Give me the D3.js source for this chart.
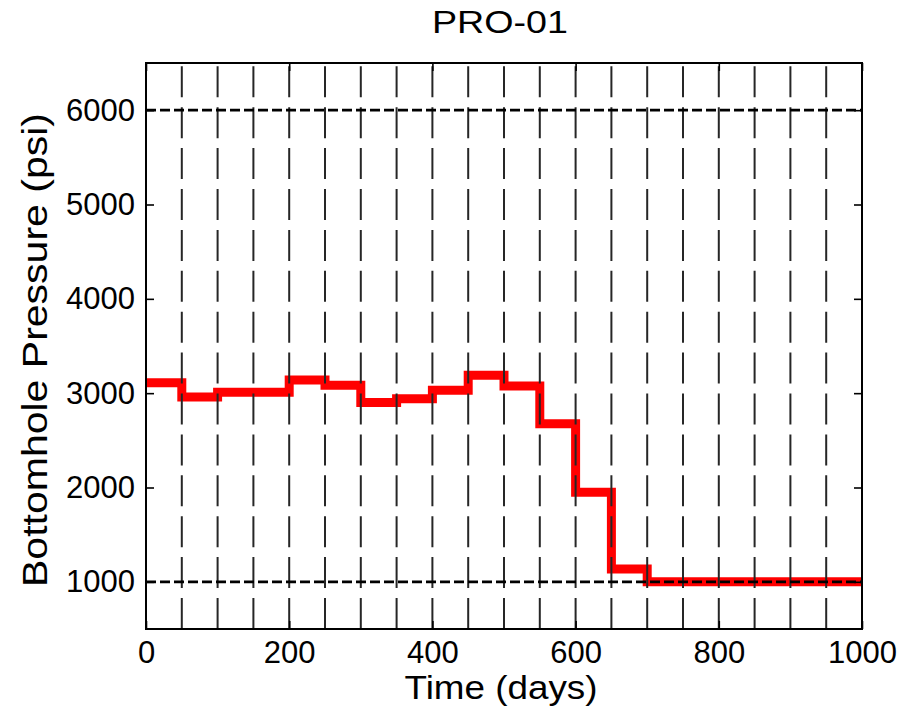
<!DOCTYPE html>
<html>
<head>
<meta charset="utf-8">
<script src="https://cdn.jsdelivr.net/npm/d3@7"></script>
<style>
  body { margin: 0; background: #fff; }
  svg { display: block; font-family: "Liberation Sans", Arial, sans-serif; }
</style>
</head>
<body>
<div id="chart"></div>
<script>
// well control schedule: bottomhole pressure held constant over each control step
var stepStart = [0, 50, 100, 200, 250, 300, 350, 400, 450, 500, 550, 600, 650, 700];
var pressure  = [3110, 2960, 3010, 3140, 3085, 2900, 2940, 3030, 3190, 3075, 2675, 1950, 1135, 1000];
var endTime = 1000;

// control step boundaries (dashed verticals) and pressure limits (dashed horizontals)
var controlTimes = [50, 100, 150, 200, 250, 300, 350, 400, 450, 500, 550, 600, 650, 700, 750, 800, 850, 900, 950];
var limits = [1000, 6000];

var xTicks = [0, 200, 400, 600, 800, 1000];
var yTicks = [1000, 2000, 3000, 4000, 5000, 6000];

var width = 902, height = 714;
var plot = {left: 146, right: 862, top: 63, bottom: 629};

var svg = d3.select("#chart").append("svg")
    .attr("width", width)
    .attr("height", height);

var x = d3.scaleLinear().domain([0, 1000]).range([plot.left, plot.right]);
var y = d3.scaleLinear().domain([500, 6500]).range([plot.bottom, plot.top]);

// step series, last value carried to the end time
var data = stepStart.map(function(t, i) { return {t: t, p: pressure[i]}; });
data.push({t: endTime, p: pressure[pressure.length - 1]});

var line = d3.line()
    .x(function(d) { return x(d.t); })
    .y(function(d) { return y(d.p); })
    .curve(d3.curveStepAfter);

svg.append("path")
    .datum(data)
    .attr("fill", "none")
    .attr("stroke", "#ff0000")
    .attr("stroke-width", 9)
    .attr("d", line);

// dashed control step lines, drawn bottom to top
svg.append("g").selectAll("line")
    .data(controlTimes)
    .enter().append("line")
    .attr("x1", function(d) { return x(d); })
    .attr("x2", function(d) { return x(d); })
    .attr("y1", y(500))
    .attr("y2", y(6500))
    .attr("stroke", "#262626")
    .attr("stroke-width", 2)
    .attr("stroke-dasharray", "31,9.9");

// pressure limits
svg.append("g").selectAll("line")
    .data(limits)
    .enter().append("line")
    .attr("x1", x(0))
    .attr("x2", x(1000))
    .attr("y1", function(d) { return y(d); })
    .attr("y2", function(d) { return y(d); })
    .attr("stroke", "#000")
    .attr("stroke-width", 2.6)
    .attr("stroke-dasharray", "10,4");

// axes, ticks pointing inward
function styleAxis(g) {
    g.select(".domain").remove();
    g.selectAll(".tick line").attr("stroke", "#000").attr("stroke-width", 1.6);
    g.selectAll(".tick text")
        .attr("fill", "#000")
        .style("font-size", "31px")
        .style("font-family", "'Liberation Sans', Arial, sans-serif");
}

var fmt = d3.format("d");

svg.append("g")
    .attr("transform", "translate(" + plot.left + ",0)")
    .call(d3.axisLeft(y).tickValues(yTicks).tickFormat(fmt).tickSizeInner(-8).tickSizeOuter(0).tickPadding(11))
    .call(styleAxis);

svg.append("g")
    .attr("transform", "translate(" + plot.right + ",0)")
    .call(d3.axisRight(y).tickValues(yTicks).tickSizeInner(-8).tickSizeOuter(0).tickFormat(""))
    .call(styleAxis);

svg.append("g")
    .attr("transform", "translate(0," + plot.bottom + ")")
    .call(d3.axisBottom(x).tickValues(xTicks).tickFormat(fmt).tickSizeInner(-8).tickSizeOuter(0).tickPadding(12))
    .call(styleAxis);

svg.append("g")
    .attr("transform", "translate(0," + plot.top + ")")
    .call(d3.axisTop(x).tickValues(xTicks).tickSizeInner(-8).tickSizeOuter(0).tickFormat(""))
    .call(styleAxis);

// plot box
svg.append("rect")
    .attr("x", plot.left)
    .attr("y", plot.top)
    .attr("width", plot.right - plot.left)
    .attr("height", plot.bottom - plot.top)
    .attr("fill", "none")
    .attr("stroke", "#000")
    .attr("stroke-width", 2);

// title and axis labels
svg.append("text")
    .attr("x", 500)
    .attr("y", 33)
    .attr("text-anchor", "middle")
    .attr("textLength", 136)
    .attr("lengthAdjust", "spacingAndGlyphs")
    .style("font-size", "32px")
    .text("PRO-01");

svg.append("text")
    .attr("x", 501)
    .attr("y", 699)
    .attr("text-anchor", "middle")
    .attr("textLength", 193)
    .attr("lengthAdjust", "spacingAndGlyphs")
    .style("font-size", "34px")
    .text("Time (days)");

svg.append("text")
    .attr("transform", "translate(47,350) rotate(-90)")
    .attr("text-anchor", "middle")
    .attr("textLength", 474)
    .attr("lengthAdjust", "spacingAndGlyphs")
    .style("font-size", "35px")
    .text("Bottomhole Pressure (psi)");
</script>
</body>
</html>
